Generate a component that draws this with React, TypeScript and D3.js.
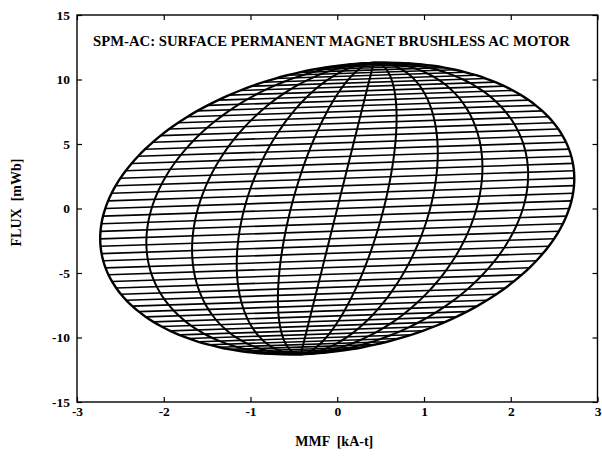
import React, { useEffect, useRef } from "react";
import * as d3 from "d3";

// MMF amplitude of each meridian loop [kA-t]
const meridianMmf = [-2.7, -2.16, -1.62, -1.08, -0.54, 0, 0.54, 1.08, 1.62, 2.16, 2.7];
// rotor angles [deg] for the constant-angle (near horizontal) lines
const rotorAngles = [
  0, 3, 6, 9, 12, 15, 18, 21, 24, 27, 30, 33, 36, 39, 42, 45, 48, 51, 54, 57,
  60, 63, 66, 69, 72, 75, 78, 81, 84, 87, 90, 93, 96, 99, 102, 105, 108, 111,
  114, 117, 120, 123, 126, 129, 132, 135, 138, 141, 144, 147, 150, 153, 156,
  159, 162, 165, 168, 171, 174, 177, 180,
];
const magnetFlux = 11.2; // mWb
const fluxSlope = 0.22; // mWb per kA-t
const mmfOffset = 0.42; // kA-t
const xTicks = [-3, -2, -1, 0, 1, 2, 3];
const yTicks = [-15, -10, -5, 0, 5, 10, 15];

const width = 602;
const height = 459;
const left = 77;
const right = 597.5;
const top = 15;
const bottom = 402;

const pointAt = (amp: number, deg: number) => {
  const t = (deg * Math.PI) / 180;
  const mmf = amp * Math.sin(t) + mmfOffset * Math.cos(t);
  return [mmf, magnetFlux * Math.cos(t) + fluxSlope * mmf];
};

const App = () => {
  const ref = useRef<SVGSVGElement>(null);

  useEffect(() => {
    const svg = d3.select(ref.current);
    svg.selectAll("*").remove();

    const x = d3.scaleLinear([-3, 3], [left, right]);
    const y = d3.scaleLinear([-15, 15], [bottom, top]);
    const font = "'Liberation Serif', 'Times New Roman', serif";
    const fmt = (d: any) => String(d);

    const line = d3
      .line<number[]>()
      .x((d) => x(d[0]))
      .y((d) => y(d[1]));

    const mesh = svg.append("g").attr("fill", "none").attr("stroke", "#000");

    // constant-angle lines
    mesh
      .selectAll("path.h")
      .data(rotorAngles.slice(1, -1))
      .join("path")
      .attr("class", "h")
      .attr("stroke-width", 1.6)
      .attr("d", (deg) =>
        line([pointAt(meridianMmf[0], deg), pointAt(meridianMmf[meridianMmf.length - 1], deg)])
      );

    // meridian loops
    mesh
      .selectAll("path.m")
      .data(meridianMmf)
      .join("path")
      .attr("class", "m")
      .attr("stroke-width", (d, i) => (i === 0 || i === meridianMmf.length - 1 ? 2.4 : 2))
      .attr("d", (amp) =>
        line.curve(d3.curveCatmullRom)(rotorAngles.map((deg) => pointAt(amp, deg)))
      );

    const axisStyle = (g: any) => {
      g.select(".domain").remove();
      g.selectAll(".tick line").attr("stroke", "#000").attr("stroke-width", 1.2);
      g.selectAll(".tick text")
        .attr("fill", "#000")
        .attr("font-family", font)
        .attr("font-weight", "bold")
        .attr("font-size", 13.5);
    };

    svg
      .append("g")
      .attr("transform", `translate(0,${bottom})`)
      .call(d3.axisBottom(x).tickValues(xTicks).tickFormat(fmt).tickSizeInner(-5).tickSizeOuter(0).tickPadding(4))
      .call(axisStyle);
    svg
      .append("g")
      .attr("transform", `translate(0,${top})`)
      .call(d3.axisTop(x).tickValues(xTicks).tickFormat(() => "").tickSizeInner(-5).tickSizeOuter(0))
      .call(axisStyle);
    svg
      .append("g")
      .attr("transform", `translate(${left},0)`)
      .call(d3.axisLeft(y).tickValues(yTicks).tickFormat(fmt).tickSizeInner(-5).tickSizeOuter(0).tickPadding(7))
      .call(axisStyle);
    svg
      .append("g")
      .attr("transform", `translate(${right},0)`)
      .call(d3.axisRight(y).tickValues(yTicks).tickFormat(() => "").tickSizeInner(-5).tickSizeOuter(0))
      .call(axisStyle);

    svg
      .append("rect")
      .attr("x", left)
      .attr("y", top)
      .attr("width", right - left)
      .attr("height", bottom - top)
      .attr("fill", "none")
      .attr("stroke", "#000")
      .attr("stroke-width", 1.4);

    svg
      .append("text")
      .attr("x", 93)
      .attr("y", 46)
      .attr("font-family", font)
      .attr("font-weight", "bold")
      .attr("font-size", 15)
      .attr("textLength", 477)
      .attr("lengthAdjust", "spacingAndGlyphs")
      .text("SPM-AC: SURFACE PERMANENT MAGNET BRUSHLESS AC MOTOR");

    svg
      .append("text")
      .attr("x", (left + right) / 2 - 3)
      .attr("y", 446)
      .attr("text-anchor", "middle")
      .attr("font-family", font)
      .attr("font-weight", "bold")
      .attr("font-size", 14)
      .attr("xml:space", "preserve")
      .text("MMF  [kA-t]");

    svg
      .append("text")
      .attr("transform", `translate(21,${(top + bottom) / 2 - 6}) rotate(-90)`)
      .attr("text-anchor", "middle")
      .attr("font-family", font)
      .attr("font-weight", "bold")
      .attr("font-size", 14)
      .attr("xml:space", "preserve")
      .text("FLUX  [mWb]");
  }, []);

  return (
    <svg
      ref={ref}
      width={width}
      height={height}
      style={{ position: "absolute", left: 0, top: 0, background: "#fff" }}
    />
  );
};

export default App;
